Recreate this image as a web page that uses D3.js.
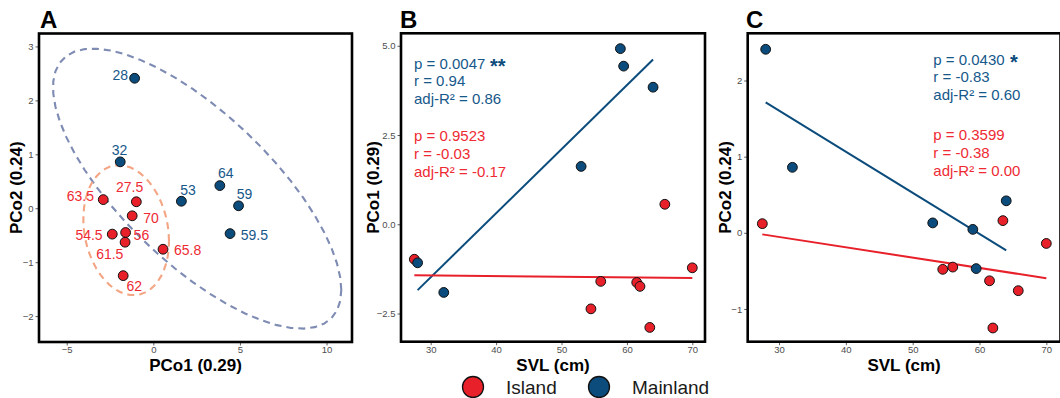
<!DOCTYPE html>
<html><head><meta charset="utf-8">
<script src="https://cdn.jsdelivr.net/npm/d3@7"></script>
<style>
body{margin:0;background:#fff;}
text{font-family:"Liberation Sans",Arial,sans-serif;}
</style></head>
<body><svg id="c" width="1060" height="398"></svg>
<script>
// ---------------- DATA ----------------
const groups = ["Island", "Mainland"];
// Island
const islandSVL  = [27.5, 54.5, 56, 61.5, 62, 63.5, 65.8, 70];
const islandPCo1 = [-0.98, -2.37, -1.60, -1.63, -1.74, -2.89, 0.56, -1.22];
const islandPCo2 = [0.12, -0.48, -0.45, -0.63, -1.25, 0.16, -0.76, -0.14];
const islandLbl  = ["27.5", "54.5", "56", "61.5", "62", "63.5", "65.8", "70"];
// Mainland
const mainSVL  = [28, 32, 53, 59, 59.5, 64];
const mainPCo1 = [-1.08, -1.91, 1.62, 4.92, 4.43, 3.84];
const mainPCo2 = [2.41, 0.86, 0.13, 0.045, -0.47, 0.42];
const mainLbl  = ["28", "32", "53", "59", "59.5", "64"];
// ticks
const ticksA_x = [-5, 0, 5, 10];
const ticksA_y = [-2, -1, 0, 1, 2, 3];
const ticksB_x = [30, 40, 50, 60, 70];
const ticksB_y = [-2.5, 0, 2.5, 5];
const ticksC_y = [-1, 0, 1, 2];
// statistics annotations
const statsB = {Mainland: ["p = 0.0047", "r = 0.94", "adj-R\u00B2 = 0.86"], Island: ["p = 0.9523", "r = -0.03", "adj-R\u00B2 = -0.17"]};
const starsB = "**";
const statsC = {Mainland: ["p = 0.0430", "r = -0.83", "adj-R\u00B2 = 0.60"], Island: ["p = 0.3599", "r = -0.38", "adj-R\u00B2 = 0.00"]};
const starsC = "*";

// ---------------- STYLE / LAYOUT ----------------
const col = {Island: "#E8202A", Mainland: "#0B4C7C"};
const txtCol = {Island: "#EE2A33", Mainland: "#16588A"};
const ellCol = {Island: "#F4A583", Mainland: "#7E8BB3"};
const svg = d3.select("#c");

const island = islandSVL.map((s,i)=>({g:"Island", svl:s, p1:islandPCo1[i], p2:islandPCo2[i], lbl:islandLbl[i]}));
const main = mainSVL.map((s,i)=>({g:"Mainland", svl:s, p1:mainPCo1[i], p2:mainPCo2[i], lbl:mainLbl[i]}));
const all = island.concat(main);

function frame(x0,x1,y0,y1){
  return {x0,x1,y0,y1};
}
function panel(f, xs, ys, xt, yt, xfmt, yfmt, xtitle, ytitle, ytitleX, letter, letterX){
  const g = svg.append("g");
  // axes
  const ax = g.append("g").attr("transform",`translate(0,${f.y1})`)
    .call(d3.axisBottom(xs).tickValues(xt).tickSize(3.5).tickPadding(1).tickFormat(xfmt));
  const ay = g.append("g").attr("transform",`translate(${f.x0},0)`)
    .call(d3.axisLeft(ys).tickValues(yt).tickSize(3.5).tickPadding(2).tickFormat(yfmt));
  [ax,ay].forEach(a=>{
    a.select(".domain").remove();
    a.selectAll("line").attr("stroke","#4D4D4D").attr("stroke-width",0.9);
    a.selectAll("text").attr("fill","#4D4D4D").attr("font-size","9.5px")
      .style("font-family","'Liberation Sans',Arial,sans-serif");
  });
  g.append("text").attr("x",(f.x0+f.x1)/2).attr("y",371).attr("text-anchor","middle")
    .attr("font-size","17px").attr("font-weight","bold").attr("fill","#000").text(xtitle);
  g.append("text").attr("transform",`translate(${ytitleX},${(f.y0+f.y1)/2}) rotate(-90)`)
    .attr("text-anchor","middle").attr("dy","0.35em")
    .attr("font-size","17px").attr("font-weight","bold").attr("fill","#000").text(ytitle);
  g.append("text").attr("x",letterX).attr("y",28).attr("font-size","24px").attr("font-weight","bold").text(letter);
  return g;
}
function border(f){
  svg.append("rect").attr("x",f.x0).attr("y",f.y0).attr("width",f.x1-f.x0).attr("height",f.y1-f.y0)
    .attr("fill","none").attr("stroke","#000").attr("stroke-width",2.6);
}
function drawPoints(g, data, xs, ys, xk, yk){
  g.selectAll(null).data(data).join("circle")
    .attr("cx",d=>xs(d[xk])).attr("cy",d=>ys(d[yk])).attr("r",4.9)
    .attr("fill",d=>col[d.g]).attr("stroke","#111").attr("stroke-width",1);
}
function lm(data, xk, yk){
  const mx=d3.mean(data,d=>d[xk]), my=d3.mean(data,d=>d[yk]);
  const sxy=d3.sum(data,d=>(d[xk]-mx)*(d[yk]-my)), sxx=d3.sum(data,d=>(d[xk]-mx)**2);
  const b=sxy/sxx, a=my-b*mx;
  const [lo,hi]=d3.extent(data,d=>d[xk]);
  return [[lo,a+b*lo],[hi,a+b*hi]];
}
function drawLm(g, data, xs, ys, xk, yk, gname){
  const L = lm(data,xk,yk);
  g.append("path").attr("d", d3.line().x(d=>xs(d[0])).y(d=>ys(d[1]))(L))
    .attr("stroke",col[gname]).attr("stroke-width",2).attr("fill","none");
}
// robust t-based covariance (cov.trob) for stat_ellipse
function covTrob(pts){
  const nu=5, p=2, n=pts.length, tol=0.01;
  let loc=[d3.mean(pts,d=>d[0]), d3.mean(pts,d=>d[1])];
  let w=new Array(n).fill(1), X;
  for(let it=0; it<25; it++){
    const w0=w.slice();
    X=pts.map(d=>[d[0]-loc[0], d[1]-loc[1]]);
    const sw=d3.sum(w);
    let a=0,b=0,c=0;
    X.forEach((x,i)=>{a+=w[i]/sw*x[0]*x[0]; b+=w[i]/sw*x[0]*x[1]; c+=w[i]/sw*x[1]*x[1];});
    const det=a*c-b*b;
    const Q=X.map(x=>(c*x[0]*x[0]-2*b*x[0]*x[1]+a*x[1]*x[1])/det);
    w=Q.map(q=>(nu+p)/(nu+q));
    const sw2=d3.sum(w);
    loc=[d3.sum(pts,(d,i)=>w[i]*d[0])/sw2, d3.sum(pts,(d,i)=>w[i]*d[1])/sw2];
    if(w.every((v,i)=>Math.abs(v-w0[i])<tol)) break;
  }
  let a=0,b=0,c=0;
  X.forEach((x,i)=>{a+=w[i]*x[0]*x[0]; b+=w[i]*x[0]*x[1]; c+=w[i]*x[1]*x[1];});
  return {center:loc, cov:[a/n,b/n,c/n]};
}
function ellipsePts(pts){
  const n=pts.length, {center,cov}=covTrob(pts);
  const dfd=n-1, level=0.95;
  const F=(dfd/2)*(Math.pow(1-level,-2/dfd)-1);
  const rad=Math.sqrt(2*F);
  const r11=Math.sqrt(cov[0]), r12=cov[1]/r11, r22=Math.sqrt(cov[2]-r12*r12);
  const out=[];
  for(let k=0;k<=51;k++){
    const t=k*2*Math.PI/51, cs=Math.cos(t), sn=Math.sin(t);
    out.push([center[0]+rad*cs*r11, center[1]+rad*(cs*r12+sn*r22)]);
  }
  return out;
}
const fmtInt = d=>d3.format("d")(d);
const fmt1 = d=>d3.format(".1f")(d);

// ---------------- PANEL A ----------------
const fA = frame(39,352,33.5,342);
const xA = d3.scaleLinear().domain([-6.6,11.47]).range([fA.x0,fA.x1]);
const yA = d3.scaleLinear().domain([-2.48,3.24]).range([fA.y1,fA.y0]);
const gA = panel(fA,xA,yA,ticksA_x,ticksA_y,fmtInt,fmtInt,"PCo1 (0.29)","PCo2 (0.24)",16,"A",40);
[["Mainland",main],["Island",island]].forEach(([gn,data])=>{
  const e=ellipsePts(data.map(d=>[d.p1,d.p2]));
  gA.append("path").attr("d",d3.line().x(d=>xA(d[0])).y(d=>yA(d[1]))(e))
    .attr("fill","none").attr("stroke",ellCol[gn]).attr("stroke-width",2.1)
    .attr("stroke-dasharray","7 5");
});
drawPoints(gA, all, xA, yA, "p1", "p2");
// label placement (repel-like offsets): [anchor, dx, dy]
const lblPos = {
  "Mainland28":["end",-6.5,-3], "Mainland32":["middle",-0.7,-11.6], "Mainland53":["middle",6.6,-11],
  "Mainland64":["middle",6,-12], "Mainland59":["middle",6,-12], "Mainland59.5":["start",10.7,1.7],
  "Island63.5":["end",-9.3,-3.3], "Island27.5":["middle",-6.7,-14.7], "Island70":["start",11,2.6],
  "Island54.5":["end",-9.6,0.7], "Island56":["start",8,2.7], "Island61.5":["middle",-15.3,11.7],
  "Island65.8":["start",11,0.7], "Island62":["start",3.4,10]
};
gA.selectAll(null).data(all).join("text")
  .attr("x",d=>xA(d.p1)+lblPos[d.g+d.lbl][1]).attr("y",d=>yA(d.p2)+lblPos[d.g+d.lbl][2])
  .attr("dy","0.35em").attr("text-anchor",d=>lblPos[d.g+d.lbl][0])
  .attr("font-size","14px").attr("fill",d=>txtCol[d.g]).text(d=>d.lbl);
border(fA);

// ---------------- PANEL B ----------------
const fB = frame(401,705,33.3,341.7);
const xB = d3.scaleLinear().domain([25.46,71.94]).range([fB.x0,fB.x1]);
const yB = d3.scaleLinear().domain([-3.29,5.35]).range([fB.y1,fB.y0]);
const gB = panel(fB,xB,yB,ticksB_x,ticksB_y,fmtInt,fmt1,"SVL (cm)","PCo1 (0.29)",373,"B",400);
drawLm(gB, main, xB, yB, "svl","p1","Mainland");
drawLm(gB, island, xB, yB, "svl","p1","Island");
drawPoints(gB, all, xB, yB, "svl","p1");
function stats(g, x, yTop, yRed, st, stars, starX){
  st.Mainland.forEach((s,i)=>g.append("text").attr("x",x).attr("y",yTop+i*17.8).attr("dy","0.35em")
    .attr("font-size","15px").attr("fill",txtCol.Mainland).text(s));
  st.Island.forEach((s,i)=>g.append("text").attr("x",x).attr("y",yRed+i*17.8).attr("dy","0.35em")
    .attr("font-size","15px").attr("fill",txtCol.Island).text(s));
  g.append("text").attr("x",starX).attr("y",yTop+3).attr("dy","0.35em").attr("font-size","20px")
    .attr("font-weight","bold").attr("fill",col.Mainland).text(stars);
}
stats(gB, 414, 63.3, 136, statsB, starsB, 490);
border(fB);

// ---------------- PANEL C ----------------
const fC = frame(747.7,1060.5,33.3,341.7);
const xC = d3.scaleLinear().domain([25.31,72.12]).range([fC.x0,fC.x1]);
const yC = d3.scaleLinear().domain([-1.43,2.62]).range([fC.y1,fC.y0]);
const gC = panel(fC,xC,yC,ticksB_x,ticksC_y,fmtInt,fmtInt,"SVL (cm)","PCo2 (0.24)",725,"C",746);
drawLm(gC, main, xC, yC, "svl","p2","Mainland");
drawLm(gC, island, xC, yC, "svl","p2","Island");
drawPoints(gC, all, xC, yC, "svl","p2");
stats(gC, 933.3, 59.3, 135, statsC, starsC, 1010);
border(fC);

// ---------------- LEGEND ----------------
const leg = svg.append("g");
const legX = {Island:473, Mainland:599};
groups.forEach(gn=>{
  leg.append("circle").attr("cx",legX[gn]).attr("cy",387).attr("r",10.5)
    .attr("fill",col[gn]).attr("stroke","#111").attr("stroke-width",1.3);
  leg.append("text").attr("x",legX[gn]+33).attr("y",387).attr("dy","0.35em")
    .attr("font-size","19px").attr("fill","#1a1a1a").text(gn);
});
</script></body></html>
